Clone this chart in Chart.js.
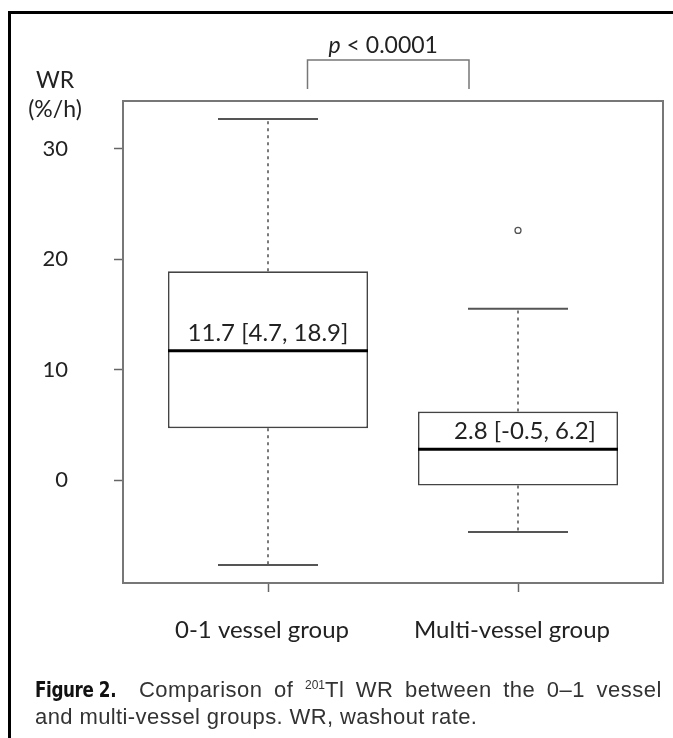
<!DOCTYPE html>
<html>
<head>
<meta charset="utf-8">
<script src="https://cdn.jsdelivr.net/npm/chart.js@4.4.1/dist/chart.umd.min.js"></script>
<style>
  html, body { margin: 0; padding: 0; background: #fff; }
  #page { position: relative; width: 673px; height: 738px; overflow: hidden; background: #fff; }
  #chart { position: absolute; left: 0; top: 0; }
  #frame { position: absolute; left: 8px; top: 11px; width: 720px; height: 800px;
           border-left: 3px solid #000; border-top: 3px solid #000; pointer-events: none; }
  .cap { position: absolute; left: 35px; width: 627px; font-family: "Liberation Sans", Arial, sans-serif;
         font-size: 22px; line-height: 27px; color: #333; white-space: nowrap; }
  #cap1 { top: 676px; text-align: justify; text-align-last: justify; white-space: normal; }
  #cap2 { top: 703px; letter-spacing: 0.4px; }
  .fig { display: inline-block; transform: scaleX(0.85); transform-origin: left center; margin-right: -3px;
         font-family: "Liberation Sans Narrow", "DejaVu Sans Condensed", "Liberation Sans", sans-serif;
         font-stretch: condensed; font-weight: bold; color: #111; letter-spacing: -0.5px; }
  #cap1 .w { letter-spacing: 0.5px; }
  sup { font-size: 12px; line-height: 0; vertical-align: 8px; letter-spacing: 0; }
</style>
</head>
<body>
<div id="page">
  <canvas id="chart" width="673" height="660"></canvas>
  <div id="frame"></div>
  <div class="cap" id="cap1"><span class="fig">Figure 2.</span> <span class="w">Comparison</span> <span class="w">of</span> <span class="w"><sup>201</sup>Tl</span> <span class="w">WR</span> <span class="w">between</span> <span class="w">the</span> <span class="w">0–1</span> <span class="w">vessel</span></div>
  <div class="cap" id="cap2">and multi-vessel groups. WR, washout rate.</div>
</div>
<script>
// Washout rate by group: quartile box, median, whisker ends and outliers
const groups = ['0-1 vessel group', 'Multi-vessel group'];
const groupPos = [1, 2];
const q1 = [4.7, -0.5];
const median = [11.7, 2.8];
const q3 = [18.9, 6.2];
const whiskerLow = [-7.7, -4.7];
const whiskerHigh = [32.7, 15.5];
const outliers = [[], [22.6]];
const yTicks = [0, 10, 20, 30];
const yTitle = ['WR', '(%/h)'];
const pText = ['p', ' < 0.0001'];

const FONT = 'Lato, "Open Sans", sans-serif';
const INK = '#222';

const boxPlugin = {
  id: 'boxWhiskers',
  beforeDatasetsDraw(chart) {
    const { ctx, chartArea: a } = chart;
    ctx.save();
    ctx.strokeStyle = '#777';
    ctx.lineWidth = 2;
    ctx.strokeRect(a.left, a.top, a.right - a.left, a.bottom - a.top);
    ctx.restore();
  },
  afterDatasetsDraw(chart, args, opts) {
    const { ctx, chartArea: a, scales: { x, y } } = chart;
    const boxes = chart.getDatasetMeta(0).data;
    const seg = (x1, y1, x2, y2) => { ctx.beginPath(); ctx.moveTo(x1, y1); ctx.lineTo(x2, y2); ctx.stroke(); };
    ctx.save();
    groupPos.forEach((g, i) => {
      const cx = x.getPixelForValue(g);
      const half = boxes[i].width / 2;
      // dashed whiskers from the box edges
      ctx.setLineDash([3, 4]);
      ctx.strokeStyle = '#333';
      ctx.lineWidth = 1.3;
      seg(cx, y.getPixelForValue(q3[i]), cx, y.getPixelForValue(whiskerHigh[i]));
      seg(cx, y.getPixelForValue(q1[i]), cx, y.getPixelForValue(whiskerLow[i]));
      ctx.setLineDash([]);
      // whisker caps
      ctx.strokeStyle = '#555';
      ctx.lineWidth = 2;
      seg(cx - half / 2, y.getPixelForValue(whiskerHigh[i]), cx + half / 2, y.getPixelForValue(whiskerHigh[i]));
      seg(cx - half / 2, y.getPixelForValue(whiskerLow[i]), cx + half / 2, y.getPixelForValue(whiskerLow[i]));
      // median
      const my = y.getPixelForValue(median[i]);
      ctx.strokeStyle = '#000';
      ctx.lineWidth = 3;
      seg(cx - half, my, cx + half, my);
      // median [IQR] label
      ctx.fillStyle = INK;
      ctx.font = '24px ' + FONT;
      ctx.textAlign = 'center';
      ctx.textBaseline = 'alphabetic';
      ctx.fillText(`${median[i]} [${q1[i]}, ${q3[i]}]`, cx + opts.labelShift[i], my - 10);
    });

    // axis title above the tick labels
    ctx.fillStyle = INK;
    ctx.font = '23px ' + FONT;
    ctx.textAlign = 'center';
    ctx.fillText(yTitle[0], a.left - 68, a.top - 13);
    ctx.fillText(yTitle[1], a.left - 68, a.top + 16);

    // significance bracket
    const bx1 = x.getPixelForValue(opts.bracket[0]);
    const bx2 = x.getPixelForValue(opts.bracket[1]);
    const top = a.top - 41, bot = a.top - 12;
    ctx.strokeStyle = '#777';
    ctx.lineWidth = 1.5;
    ctx.beginPath();
    ctx.moveTo(bx1, bot); ctx.lineTo(bx1, top); ctx.lineTo(bx2, top); ctx.lineTo(bx2, bot);
    ctx.stroke();
    ctx.font = 'italic 23px ' + FONT;
    const w1 = ctx.measureText(pText[0]).width;
    ctx.font = '23px ' + FONT;
    const w2 = ctx.measureText(pText[1]).width;
    const sx = (bx1 + bx2) / 2 - 5 - (w1 + w2) / 2;
    ctx.textAlign = 'left';
    ctx.font = 'italic 23px ' + FONT;
    ctx.fillText(pText[0], sx, top - 7);
    ctx.font = '23px ' + FONT;
    ctx.fillText(pText[1], sx + w1, top - 7);
    ctx.restore();
  }
};

new Chart(document.getElementById('chart'), {
  type: 'bar',
  data: {
    datasets: [
      {
        type: 'bar',
        data: groupPos.map((g, i) => ({ x: g, y: [q1[i], q3[i]] })),
        backgroundColor: '#fff',
        borderColor: '#444',
        borderWidth: 1.6,
        borderSkipped: false,
        barPercentage: 1,
        categoryPercentage: 0.8,
        order: 2
      },
      {
        type: 'scatter',
        data: groupPos.flatMap((g, i) => outliers[i].map(v => ({ x: g, y: v }))),
        pointStyle: 'circle',
        pointRadius: 3,
        pointBackgroundColor: '#fff',
        pointBorderColor: '#555',
        pointBorderWidth: 1.3,
        order: 1
      }
    ]
  },
  options: {
    responsive: false,
    animation: false,
    devicePixelRatio: 1,
    layout: { padding: { top: 101, right: 10, left: 0, bottom: 0 } },
    plugins: {
      legend: { display: false },
      tooltip: { enabled: false },
      boxWhiskers: { labelShift: [0, 7], bracket: [1.158, 1.804] }
    },
    scales: {
      x: {
        type: 'linear',
        offset: false,
        min: 0.42,
        max: 2.58,
        afterBuildTicks: s => { s.ticks = groupPos.map(v => ({ value: v })); },
        afterFit: s => { s.height = 77; },
        border: { display: false },
        grid: { offset: false, drawOnChartArea: false, drawTicks: true, tickLength: 9, color: '#666', tickWidth: 1.5 },
        ticks: {
          autoSkip: false,
          maxRotation: 0,
          padding: 24,
          labelOffset: -6,
          color: INK,
          font: { family: FONT, size: 24 },
          callback: v => groups[groupPos.indexOf(v)]
        }
      },
      y: {
        type: 'linear',
        min: -9.32,
        max: 34.32,
        afterBuildTicks: s => { s.ticks = yTicks.map(v => ({ value: v })); },
        afterFit: s => { s.width = 123; },
        border: { display: false },
        grid: { drawOnChartArea: false, drawTicks: true, tickLength: 9, color: '#666', tickWidth: 1.5 },
        ticks: {
          padding: 46,
          color: INK,
          font: { family: FONT, size: 22 }
        }
      }
    }
  },
  plugins: [boxPlugin]
});
</script>
</body>
</html>
